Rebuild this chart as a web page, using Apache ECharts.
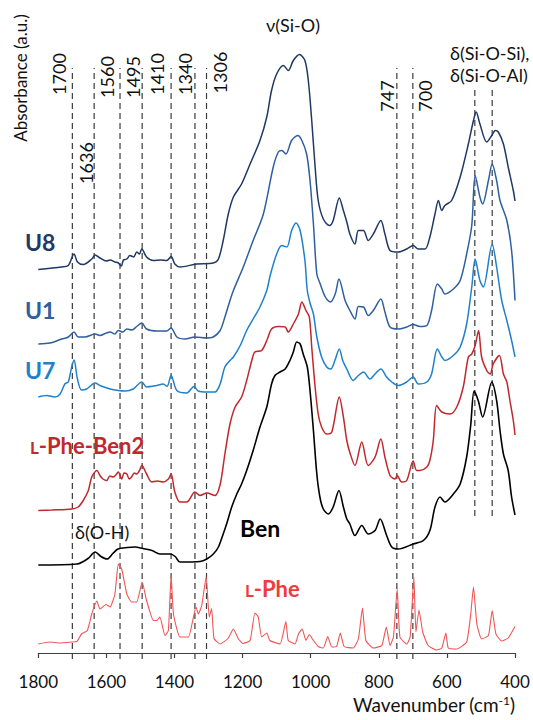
<!DOCTYPE html>
<html><head><meta charset="utf-8">
<script src="https://cdn.jsdelivr.net/npm/echarts@6/dist/echarts.min.js"></script>
<style>html,body{margin:0;padding:0;background:#fff}#c{width:533px;height:720px}</style>
</head><body><div id="c"></div>
<script>
// ---- data: [wavenumber (cm-1), absorbance (a.u., stacked offsets included)] ----
const specU8 = [[1800,383.5],[1731,386],[1712,387.5],[1695,399],[1685,391],[1668,388.5],[1643,394],[1633,398],[1619,395],[1600,392],[1589,393],[1575,391],[1565,390],[1556,387],[1550,393],[1540,394],[1531,397.5],[1520,396],[1511,401],[1503,399],[1496,404],[1482,396],[1462,392.5],[1440,393],[1423,392.5],[1410,396.5],[1399,389],[1384,386],[1335,389],[1286,390],[1271,394],[1257,412.5],[1242,439],[1227,456],[1203,469],[1178,489],[1149,512.5],[1129,536],[1115,562.5],[1100,579],[1080,587.5],[1066,582.5],[1051,592.5],[1033,598.5],[1017,592.5],[1007,572.5],[997,532.5],[987,486],[978,452.5],[963,434],[945,427.5],[934,432.5],[916,455],[904,442.5],[894,431],[885,419],[870,409],[860,422.5],[845,422.5],[831,412.5],[816,419],[794,432.5],[782,419],[767,402.5],[743,401],[718,404],[699,407.5],[684,404],[664,404],[650,416],[635,439],[625,452.5],[615,442.5],[606,447.5],[586,452.5],[561,476],[537,509],[522,532.5],[514,541],[503,529],[483,511],[468,517.5],[458,522.5],[449,521],[434,509],[420,486],[405,462.5],[400,452]];
const specU1 = [[1800,309],[1766,310],[1731,314],[1712,316],[1695,321],[1683,316],[1663,316],[1633,319],[1619,317.5],[1600,320],[1589,321],[1575,319],[1565,322.5],[1552,321],[1540,324],[1525,323],[1511,326.5],[1496,330],[1482,324],[1452,322],[1423,322],[1410,325],[1393,316],[1369,314],[1340,316],[1305,315],[1286,316],[1266,322.5],[1252,336],[1237,352.5],[1227,362.5],[1198,386],[1169,412.5],[1139,439],[1110,486],[1095,501],[1085,502.5],[1073,499],[1056,512.5],[1038,517.5],[1026,512.5],[1012,499],[1002,472.5],[992,429],[982,379],[973,370],[957,356],[942,351],[928,359],[917,374],[899,352.5],[885,342.5],[870,334],[860,346.5],[845,346],[831,337.5],[816,342.5],[794,354],[782,341],[767,326],[743,324],[718,326],[699,328.5],[679,326.5],[659,327.5],[645,342.5],[628,369],[615,364],[606,359],[581,364],[561,372.5],[542,399],[527,427.5],[517,477.5],[503,456],[495,449],[478,472.5],[467,489],[454,472.5],[444,452.5],[424,432.5],[410,402.5],[400,352.5]];
const specU7 = [[1800,256],[1775,257.5],[1751,256],[1736,259],[1722,269],[1712,271],[1702,286],[1695,293],[1685,274],[1673,263],[1658,264],[1633,270],[1619,267.5],[1589,264],[1565,262.5],[1545,262],[1521,264],[1496,271],[1482,266],[1452,267.5],[1433,269],[1422,266.5],[1410,277.5],[1393,262.5],[1364,260],[1343,266.5],[1330,262],[1305,261],[1281,261],[1266,269],[1252,286],[1237,292.5],[1227,296],[1207,307.5],[1188,322.5],[1169,334],[1149,346],[1129,362.5],[1119,377.5],[1100,399],[1085,407.5],[1070,406],[1056,422.5],[1043,430],[1031,422.5],[1017,392.5],[1010,362.5],[1002,350],[992,339],[982,316],[968,296],[953,286],[941,284],[929,292.5],[916,304],[906,292.5],[894,284],[875,272.5],[860,277.5],[845,281],[826,274],[811,279],[794,284],[777,276],[762,271],[743,267.5],[718,271],[699,276],[684,269],[659,271],[645,279],[628,304],[615,296],[606,292.5],[581,297.5],[561,306],[542,329],[527,366],[517,394],[503,372.5],[493,366],[467,409],[454,386],[439,352.5],[424,332.5],[410,312.5],[400,296]];
const specLPheBen2 = [[1800,142.5],[1760,143],[1702,144],[1683,146],[1668,152.5],[1653,162.5],[1643,176],[1628,182.5],[1619,177.5],[1610,174],[1599,172.5],[1590,177],[1580,176],[1570,179],[1565,181],[1555,174],[1548,180],[1540,179],[1533,174],[1526,176],[1518,180],[1511,179],[1502,183],[1496,187.5],[1482,179],[1467,171],[1450,172],[1433,171],[1418,174],[1410,179],[1399,161],[1384,151],[1364,151],[1340,161],[1325,157.5],[1305,160],[1281,157.5],[1266,168.5],[1252,199],[1237,229],[1222,246],[1203,256],[1188,272.5],[1173,292.5],[1164,301],[1144,302.5],[1129,312.5],[1115,324],[1095,326.5],[1075,326],[1066,321],[1051,329],[1036,339],[1026,351],[1014,342.5],[1004,336],[997,306],[987,266],[978,239],[968,226],[953,219],[938,221],[916,256],[904,236],[894,212.5],[885,200.5],[870,187.5],[850,211],[831,187.5],[811,196],[794,214],[782,196],[767,177.5],[752,174],[746,177.5],[733,171],[718,172.5],[699,192],[689,182.5],[679,182.5],[659,186],[650,192.5],[640,212.5],[630,247.5],[615,241],[591,239],[571,246],[552,266],[537,296],[527,299],[517,307.5],[507,322.5],[498,296],[483,282.5],[473,279],[464,289],[446,297.5],[434,279],[424,271],[415,252.5],[405,232.5],[400,218]];
const specBen = [[1800,88],[1686,89],[1654,94.5],[1633,101],[1616,96.5],[1598,94],[1581,99.5],[1566,104],[1539,105.5],[1516,106],[1493,104.5],[1466,102.5],[1443,99],[1413,99],[1398,96.5],[1384,91],[1325,91.5],[1305,94],[1286,99],[1271,106],[1257,119],[1247,129],[1232,146],[1217,159],[1203,169],[1188,182.5],[1169,202.5],[1149,226],[1129,246],[1115,269],[1105,277.5],[1090,281],[1075,284],[1061,292.5],[1051,301],[1041,311],[1031,309],[1022,299],[1010,286],[1002,262.5],[992,222.5],[982,179],[973,156],[963,144],[948,139],[934,146],[917,162.5],[904,146],[894,134],[885,129],[870,117.5],[850,127.5],[831,119],[811,122.5],[796,134],[777,117.5],[762,106],[743,104],[699,109],[669,112.5],[650,122.5],[635,146],[620,156],[606,151],[581,159],[561,169],[542,196],[530,228],[520,262],[508,252.5],[495,236],[468,271],[454,252.5],[444,222.5],[434,199],[420,182.5],[410,156],[400,138]];
const specLPhe = [[1800,9],[1766,11],[1736,10],[1702,11],[1687,11.5],[1673,19],[1656,22.5],[1643,39],[1628,52],[1619,44],[1601,48.5],[1589,46],[1575,59],[1565,89],[1555,84],[1540,59],[1526,51],[1511,51],[1495,71],[1482,52.5],[1462,32.5],[1452,32.5],[1443,36],[1428,17.5],[1418,22.5],[1410,77.5],[1403,39],[1384,16],[1359,16],[1337,46],[1330,39],[1320,47.5],[1307,76],[1298,36],[1291,44.5],[1284,14.5],[1266,9],[1243,14.5],[1227,24],[1213,14.5],[1199,9.5],[1178,12.5],[1164,40],[1154,36],[1144,16],[1129,20],[1120,12.5],[1090,9],[1073,31.5],[1066,12.5],[1046,9],[1036,19],[1025,24],[1014,12.5],[1004,18.5],[992,12.5],[978,6.5],[963,5],[950,16.5],[938,6],[924,6.5],[913,20],[902,6.5],[875,5],[860,14],[848,45],[838,12.5],[816,5],[791,7.5],[778,26],[767,7.5],[757,16],[746,64],[738,16],[718,9],[708,16],[697,76],[691,21],[682,43],[671,21],[655,7.5],[630,3],[615,5],[603,20],[596,5],[571,4],[542,11],[530,39],[522,66],[512,29],[498,14],[478,17.5],[467,42.5],[456,19],[439,12],[420,15],[400,26.5]];

// band markers (cm-1) and their tick-style labels
const bandLines  = [1700, 1636, 1560, 1495, 1410, 1340, 1306, 747, 700];
const bandLabels = ['1700','1636','1560','1495','1410','1340','1306','747','700'];
const siOLines   = [518, 467];
const xMin = 400, xMax = 1800, xStep = 200;

const FONT = 'Lato, "Open Sans", "DejaVu Sans", sans-serif';
const chart = echarts.init(document.getElementById('c'), null, {renderer: 'svg'});

function spec(name, data, color, width, smooth) {
  return {name, type: 'line', data, symbol: 'none', smooth, silent: true,
    lineStyle: {color, width}, z: 3};
}
function dashed(w, y0, y1) {
  return {type: 'line', data: [[w, y0], [w, y1]], symbol: 'none', silent: true,
    lineStyle: {color: '#3a3a3a', width: 1.2, type: [6, 4]}, z: 2};
}

const series = [
  spec('U8', specU8, '#1f3864', 1.5, 0.3),
  spec('U1', specU1, '#2e5f9f', 1.5, 0.3),
  spec('U7', specU7, '#1f80cc', 1.5, 0.3),
  spec('L-Phe-Ben2', specLPheBen2, '#c0282d', 1.5, 0.3),
  spec('Ben', specBen, '#000000', 1.6, 0.3),
  spec('L-Phe', specLPhe, '#f25454', 1.1, 0.15),
];
bandLines.forEach(w => series.push(dashed(w, -6, 585)));
siOLines.forEach(w => series.push(dashed(w, 137, 564)));

chart.setOption({
  animation: false,
  backgroundColor: '#fff',
  grid: {left: 38.3, right: 18, top: 53, bottom: 59},
  xAxis: {type: 'value', inverse: true, min: xMin, max: xMax, interval: xStep,
    axisLine: {onZero: true, lineStyle: {color: '#404040', width: 1.2}},
    axisTick: {length: 5, lineStyle: {color: '#404040', width: 1.2}},
    axisLabel: {fontSize: 17, color: '#111', margin: 12, fontFamily: FONT,
      formatter: v => String(v)},
    splitLine: {show: false}},
  yAxis: {type: 'value', min: -8, max: 600, show: false},
  series
});

function txt(x, y, text, opt) {
  opt = opt || {};
  return {type: 'text', x, y, rotation: opt.rot || 0, silent: true, z: 10,
    style: Object.assign({text, fill: opt.fill || '#111', fontFamily: FONT,
      fontSize: opt.size || 16, fontWeight: opt.weight || 'normal',
      textAlign: opt.align || 'center', textVerticalAlign: 'middle'}, opt.extra || {})};
}

const labelOffsets = [[-13, 74], [-8, 163], [-13, 77], [-9, 77], [-14, 74], [-10, 74], [13.5, 72.5], [-10, 96], [12, 96]];
const g = [];
bandLines.forEach((w, i) => {
  const px = chart.convertToPixel({xAxisIndex: 0}, w);
  g.push(txt(px + labelOffsets[i][0], labelOffsets[i][1], bandLabels[i], {rot: Math.PI / 2, size: 18}));
});
g.push(txt(20, 78, 'Absorbance (a.u.)', {rot: Math.PI / 2, size: 17}));
g.push(txt(293, 25, 'ν(Si-O)', {size: 18}));
g.push(txt(450, 53, 'δ(Si-O-Si),', {size: 18, align: 'left'}));
g.push(txt(450, 75, 'δ(Si-O-Al)', {size: 18, align: 'left'}));
g.push(txt(75, 532, 'δ(O-H)', {size: 18, align: 'left'}));
g.push(txt(25, 242, 'U8', {size: 23, weight: 'bold', align: 'left', fill: '#1f3864'}));
g.push(txt(25, 310, 'U1', {size: 23, weight: 'bold', align: 'left', fill: '#2e5f9f'}));
g.push(txt(25, 370, 'U7', {size: 23, weight: 'bold', align: 'left', fill: '#1f80cc'}));
g.push(txt(30, 445, '{s|L}-Phe-Ben2', {size: 22, weight: 'bold', align: 'left', fill: '#c0282d',
  extra: {rich: {s: {fontSize: 17, fontWeight: 'bold', fill: '#c0282d', fontFamily: FONT, verticalAlign: 'bottom'}}}}));
g.push(txt(240, 528, 'Ben', {size: 23, weight: 'bold', align: 'left', fill: '#000'}));
g.push(txt(245, 588, '{s|L}-Phe', {size: 22, weight: 'bold', align: 'left', fill: '#ee3b3b',
  extra: {rich: {s: {fontSize: 17, fontWeight: 'bold', fill: '#ee3b3b', fontFamily: FONT, verticalAlign: 'bottom'}}}}));
g.push(txt(515, 704, 'Wavenumber (cm{u|-1})', {size: 19, align: 'right', fill: '#111',
  extra: {rich: {u: {fontSize: 12, fill: '#111', fontFamily: FONT, verticalAlign: 'top'}}}}));
chart.setOption({graphic: {elements: g}});
</script>
</body></html>
